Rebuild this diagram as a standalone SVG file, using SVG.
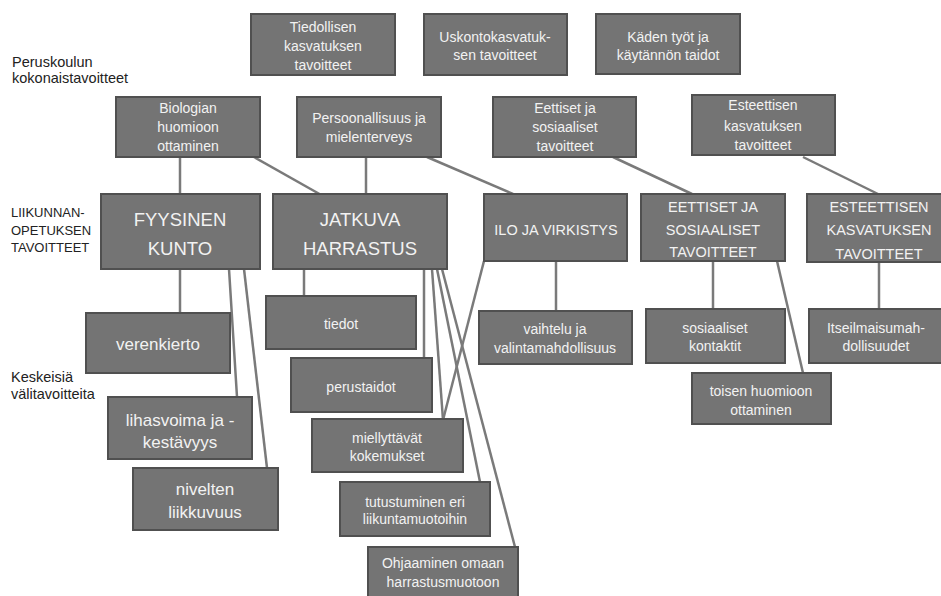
<svg xmlns="http://www.w3.org/2000/svg" width="941" height="596" viewBox="0 0 941 596">
<style>
.b{fill:#747474;stroke:#505050;stroke-width:2}
.t{font-family:"Liberation Sans",Arial,sans-serif;font-size:14px;fill:#f2f2f2;text-anchor:middle}
.m{font-size:17px}
.L{font-size:18.5px}
.M{font-size:14.5px}
.lab{font-family:"Liberation Sans",Arial,sans-serif;font-size:14.5px;fill:#222}
.lab2{font-family:"Liberation Sans",Arial,sans-serif;font-size:13px;fill:#222}
.c line{stroke:#7a7a7a;stroke-width:2.5}
</style>
<rect width="941" height="596" fill="#fff"/>
<g id="labels">
<text class="lab" x="12" y="67">Peruskoulun</text>
<text class="lab" x="12" y="83">kokonaistavoitteet</text>
<text class="lab2" x="11" y="217">LIIKUNNAN-</text>
<text class="lab2" x="11" y="235">OPETUKSEN</text>
<text class="lab2" x="11" y="252">TAVOITTEET</text>
<text class="lab" x="11" y="382">Keskeisiä</text>
<text class="lab" x="11" y="399">välitavoitteita</text>
</g>
<g class="c" id="connectors">
<line x1="180" y1="157" x2="180" y2="194"/>
<line x1="254" y1="157" x2="323" y2="196"/>
<line x1="366" y1="157" x2="366" y2="194"/>
<line x1="427" y1="157" x2="513" y2="194"/>
<line x1="613" y1="157" x2="692" y2="194"/>
<line x1="803" y1="157" x2="878" y2="194"/>
<line x1="180" y1="269" x2="180" y2="313"/>
<line x1="229" y1="269" x2="237" y2="397"/>
<line x1="244" y1="269" x2="267" y2="468"/>
<line x1="304" y1="269" x2="304" y2="296"/>
<line x1="424" y1="269" x2="424" y2="358"/>
<line x1="432" y1="269" x2="443" y2="420"/>
<line x1="437" y1="269" x2="480" y2="482"/>
<line x1="442" y1="269" x2="515" y2="547"/>
<line x1="484" y1="261" x2="443" y2="420"/>
<line x1="556" y1="261" x2="556" y2="311"/>
<line x1="713" y1="261" x2="713" y2="309"/>
<line x1="777" y1="261" x2="803" y2="373"/>
<line x1="879" y1="262" x2="879" y2="309"/>
</g>
<g id="n-tiedollisen"><rect class="b" x="251" y="14" width="144" height="61"/><text class="t" x="323" y="32">Tiedollisen</text><text class="t" x="323" y="51">kasvatuksen</text><text class="t" x="323" y="70">tavoitteet</text></g>
<g id="n-uskonto"><rect class="b" x="424" y="14" width="143" height="61"/><text class="t" x="495" y="42">Uskontokasvatuk-</text><text class="t" x="495" y="60">sen tavoitteet</text></g>
<g id="n-kaden"><rect class="b" x="596" y="14" width="144" height="60"/><text class="t" x="668" y="42">Käden työt ja</text><text class="t" x="668" y="60">käytännön taidot</text></g>
<g id="n-biologian"><rect class="b" x="116" y="97" width="144" height="60"/><text class="t" x="188" y="113">Biologian</text><text class="t" x="188" y="132">huomioon</text><text class="t" x="188" y="151">ottaminen</text></g>
<g id="n-persoonallisuus"><rect class="b" x="297" y="97" width="144" height="60"/><text class="t" x="369" y="123">Persoonallisuus ja</text><text class="t" x="369" y="142">mielenterveys</text></g>
<g id="n-eettiset1"><rect class="b" x="493" y="97" width="143" height="60"/><text class="t" x="565" y="113">Eettiset ja</text><text class="t" x="565" y="132">sosiaaliset</text><text class="t" x="565" y="151">tavoitteet</text></g>
<g id="n-esteettisen1"><rect class="b" x="692" y="95" width="143" height="60"/><text class="t" x="763" y="110">Esteettisen</text><text class="t" x="763" y="131">kasvatuksen</text><text class="t" x="763" y="150">tavoitteet</text></g>
<g id="n-fyysinen"><rect class="b" x="101" y="194" width="159" height="75"/><text class="t L" x="180" y="226">FYYSINEN</text><text class="t L" x="180" y="255">KUNTO</text></g>
<g id="n-jatkuva"><rect class="b" x="273" y="194" width="174" height="75"/><text class="t L" x="360" y="226">JATKUVA</text><text class="t L" x="360" y="255">HARRASTUS</text></g>
<g id="n-ilo"><rect class="b" x="484" y="194" width="143" height="67"/><text class="t M" x="556" y="235">ILO JA VIRKISTYS</text></g>
<g id="n-eettiset2"><rect class="b" x="641" y="194" width="144" height="67"/><text class="t M" x="713" y="212">EETTISET JA</text><text class="t M" x="713" y="235">SOSIAALISET</text><text class="t M" x="713" y="257">TAVOITTEET</text></g>
<g id="n-esteettisen2"><rect class="b" x="807" y="194" width="145" height="68"/><text class="t M" x="879" y="212">ESTEETTISEN</text><text class="t M" x="879" y="235">KASVATUKSEN</text><text class="t M" x="879" y="259">TAVOITTEET</text></g>
<g id="n-verenkierto"><rect class="b" x="86" y="313" width="144" height="60"/><text class="t m" x="158" y="350">verenkierto</text></g>
<g id="n-tiedot"><rect class="b" x="266" y="296" width="150" height="53"/><text class="t" x="341" y="329">tiedot</text></g>
<g id="n-perustaidot"><rect class="b" x="291" y="358" width="141" height="54"/><text class="t" x="361" y="392">perustaidot</text></g>
<g id="n-vaihtelu"><rect class="b" x="479" y="311" width="153" height="53"/><text class="t" x="555" y="334">vaihtelu ja</text><text class="t" x="555" y="353">valintamahdollisuus</text></g>
<g id="n-sosiaaliset"><rect class="b" x="646" y="309" width="139" height="54"/><text class="t" x="715" y="333">sosiaaliset</text><text class="t" x="715" y="351">kontaktit</text></g>
<g id="n-itseilmaisu"><rect class="b" x="809" y="309" width="143" height="54"/><text class="t" x="876" y="333">Itseilmaisumah-</text><text class="t" x="876" y="351">dollisuudet</text></g>
<g id="n-toisen"><rect class="b" x="692" y="373" width="139" height="51"/><text class="t" x="761" y="396">toisen huomioon</text><text class="t" x="761" y="415">ottaminen</text></g>
<g id="n-lihasvoima"><rect class="b" x="108" y="397" width="144" height="62"/><text class="t m" x="180" y="426">lihasvoima ja -</text><text class="t m" x="180" y="448">kestävyys</text></g>
<g id="n-nivelten"><rect class="b" x="133" y="468" width="145" height="62"/><text class="t m" x="205" y="495">nivelten</text><text class="t m" x="205" y="518">liikkuvuus</text></g>
<g id="n-miellyttavat"><rect class="b" x="312" y="419" width="151" height="53"/><text class="t" x="387" y="443">miellyttävät</text><text class="t" x="387" y="461">kokemukset</text></g>
<g id="n-tutustuminen"><rect class="b" x="340" y="482" width="150" height="54"/><text class="t" x="415" y="507">tutustuminen eri</text><text class="t" x="415" y="524">liikuntamuotoihin</text></g>
<g id="n-ohjaaminen"><rect class="b" x="368" y="547" width="150" height="56"/><text class="t" x="443" y="568">Ohjaaminen omaan</text><text class="t" x="443" y="587">harrastusmuotoon</text></g>
</svg>
